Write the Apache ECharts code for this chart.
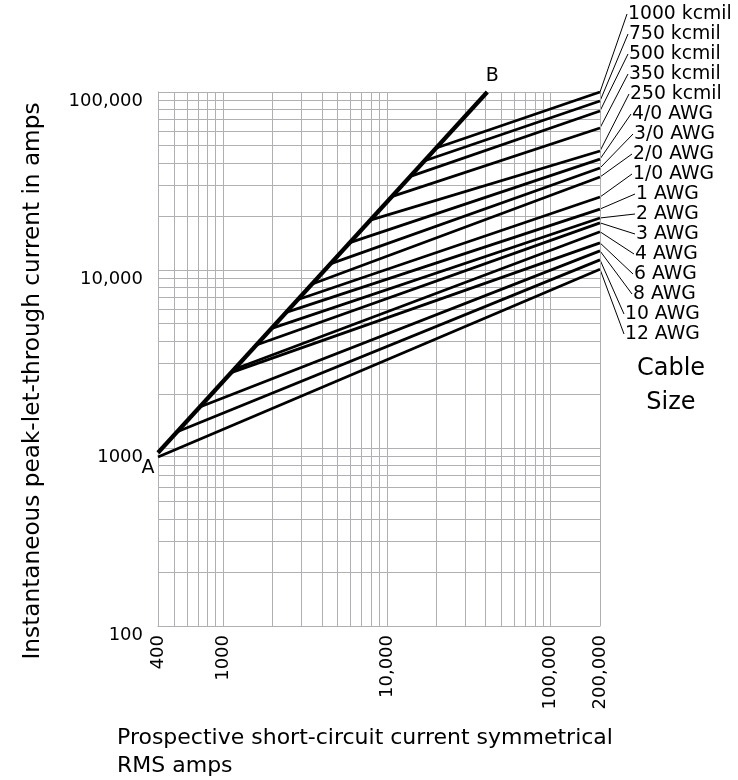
<!DOCTYPE html>
<html>
<head>
<meta charset="utf-8">
<script src="https://cdn.jsdelivr.net/npm/echarts@6/dist/echarts.min.js"></script>
<style>
html, body { margin: 0; padding: 0; background: #fff; }
#chart { width: 738px; height: 780px; }
</style>
</head>
<body>
<div id="chart"></div>
<script>
// cable sizes, top line first
const cableNames = ['1000 kcmil', '750 kcmil', '500 kcmil', '350 kcmil', '250 kcmil', '4/0 AWG', '3/0 AWG',
  '2/0 AWG', '1/0 AWG', '1 AWG', '2 AWG', '3 AWG', '4 AWG', '6 AWG', '8 AWG', '10 AWG', '12 AWG'];
// where each cable line leaves the A-B line (RMS amps, peak amps)
const startCurrent = [20400, 17200, 14200, 10800, 8100, 6000, 4600, 3500, 2900, 2450, 1980, 1610, 1180, 1130, 720, 520, 400];
const startPeak = [48800, 41200, 33800, 25900, 19200, 14300, 10900, 8350, 6850, 5800, 4700, 3800, 2780, 2660, 1700, 1230, 890];
// peak let-through at the right edge (200,000 A)
const endCurrent = 200000;
const endPeak = [100000, 89000, 78200, 62800, 46600, 42000, 37400, 33300, 25700, 22000, 19600, 18400, 16400, 14200, 12800, 11400, 10100];
// line A-B
const abCurrent = [400, 41000];
const abPeak = [940, 100000];

const xLabelValues = [400, 1000, 10000, 100000, 200000];
const yLabelValues = [100, 1000, 10000, 100000];

const FONT = '"DejaVu Sans", "Liberation Sans", sans-serif';

// log grid: 1..9 in every decade inside the range
function logGrid(min, max) {
  const out = [];
  for (let d = 1; d <= 1e6; d *= 10) {
    for (let m = 1; m <= 9; m++) {
      const v = m * d;
      if (v >= min && v <= max) out.push(v);
    }
  }
  return out;
}
const xGrid = logGrid(400, 200000);
const yGrid = logGrid(100, 100000);

const gridLines = xGrid.map(v => ({xAxis: v})).concat(yGrid.map(v => ({yAxis: v})));

function fmt(v) {
  const r = Math.round(v);
  return r >= 10000 ? r.toLocaleString('en-US') : String(r);
}

const series = [{
  type: 'line',
  data: [[400, 100]],
  showSymbol: false,
  lineStyle: {opacity: 0},
  silent: true,
  z: 1,
  markLine: {
    silent: true,
    z: 1,
    symbol: ['none', 'none'],
    label: {show: false},
    lineStyle: {color: '#b0b0b4', width: 1, type: 'solid'},
    data: gridLines
  }
}];

cableNames.forEach((name, i) => {
  series.push({
    name: name,
    type: 'line',
    z: 10,
    showSymbol: false,
    lineStyle: {color: '#000', width: 2.8},
    data: [[startCurrent[i], startPeak[i]], [endCurrent, endPeak[i]]]
  });
});

series.push({
  name: 'A-B',
  type: 'line',
  z: 11,
  showSymbol: false,
  lineStyle: {color: '#000', width: 4.2},
  data: [[abCurrent[0], abPeak[0]], [abCurrent[1], abPeak[1]]]
});

const option = {
  animation: false,
  backgroundColor: '#fff',
  grid: {left: 158, right: 138, top: 92, bottom: 154, containLabel: false},
  xAxis: {
    type: 'log',
    min: 400,
    max: 200000,
    axisLine: {show: true, lineStyle: {color: '#b0b0b4', width: 1}},
    axisTick: {show: false},
    splitLine: {show: false},
    axisLabel: {
      rotate: 90,
      margin: 9,
      color: '#000',
      fontFamily: FONT,
      fontSize: 18,
      showMinLabel: true,
      showMaxLabel: true,
      hideOverlap: false,
      formatter: v => xLabelValues.some(t => Math.abs(t - v) / t < 1e-6) ? fmt(v) : ''
    }
  },
  yAxis: {
    type: 'log',
    min: 100,
    max: 100000,
    axisLine: {show: true, lineStyle: {color: '#b0b0b4', width: 1}},
    axisTick: {show: false},
    splitLine: {show: false},
    axisLabel: {
      margin: 15,
      color: '#000',
      fontFamily: FONT,
      fontSize: 18,
      verticalAlign: 'top',
      showMinLabel: true,
      showMaxLabel: true,
      formatter: v => yLabelValues.some(t => Math.abs(t - v) / t < 1e-6) ? fmt(v) : ''
    }
  },
  series: series
};

const chart = echarts.init(document.getElementById('chart'));
chart.setOption(option);

// annotations: cable labels with leader lines, A/B marks, axis titles
const labelX = [628, 629, 629, 629, 630, 632, 634, 633, 633, 636, 636, 636, 635, 634, 633, 625, 625];
const labelTop = 14, labelStep = 20;
const toPx = (x, y) => chart.convertToPixel({gridIndex: 0}, [x, y]);

const textStyle = (text, size, align) => ({
  text: text, font: size + 'px ' + FONT, fill: '#000',
  align: align, verticalAlign: 'middle', textAlign: align, textVerticalAlign: 'middle'
});

const graphics = [];
cableNames.forEach((name, i) => {
  const p = toPx(endCurrent, endPeak[i]);
  const ly = labelTop + i * labelStep;
  graphics.push({
    type: 'line',
    silent: true,
    shape: {x1: p[0], y1: p[1], x2: labelX[i] - 1, y2: ly},
    style: {stroke: '#000', lineWidth: 1}
  });
  graphics.push({type: 'text', silent: true, x: labelX[i], y: ly, style: textStyle(name, 18.8, 'left')});
});

const pa = toPx(abCurrent[0], abPeak[0]);
const pb = toPx(abCurrent[1], abPeak[1]);
graphics.push({type: 'text', silent: true, x: pa[0] - 10, y: pa[1] + 15, style: textStyle('A', 19, 'center')});
graphics.push({type: 'text', silent: true, x: pb[0] + 5, y: pb[1] - 16, style: textStyle('B', 19, 'center')});

graphics.push({type: 'text', silent: true, x: 671, y: 369, style: textStyle('Cable', 24, 'center')});
graphics.push({type: 'text', silent: true, x: 671, y: 403, style: textStyle('Size', 24, 'center')});

graphics.push({
  type: 'text', silent: true, x: 33, y: 381, rotation: Math.PI / 2,
  style: textStyle('Instantaneous peak-let-through current in amps', 23.2, 'center')
});
graphics.push({type: 'text', silent: true, x: 117, y: 738,
  style: textStyle('Prospective short-circuit current symmetrical', 22, 'left')});
graphics.push({type: 'text', silent: true, x: 117, y: 766,
  style: textStyle('RMS amps', 22, 'left')});

chart.setOption({graphic: {elements: graphics}});
</script>
</body>
</html>
